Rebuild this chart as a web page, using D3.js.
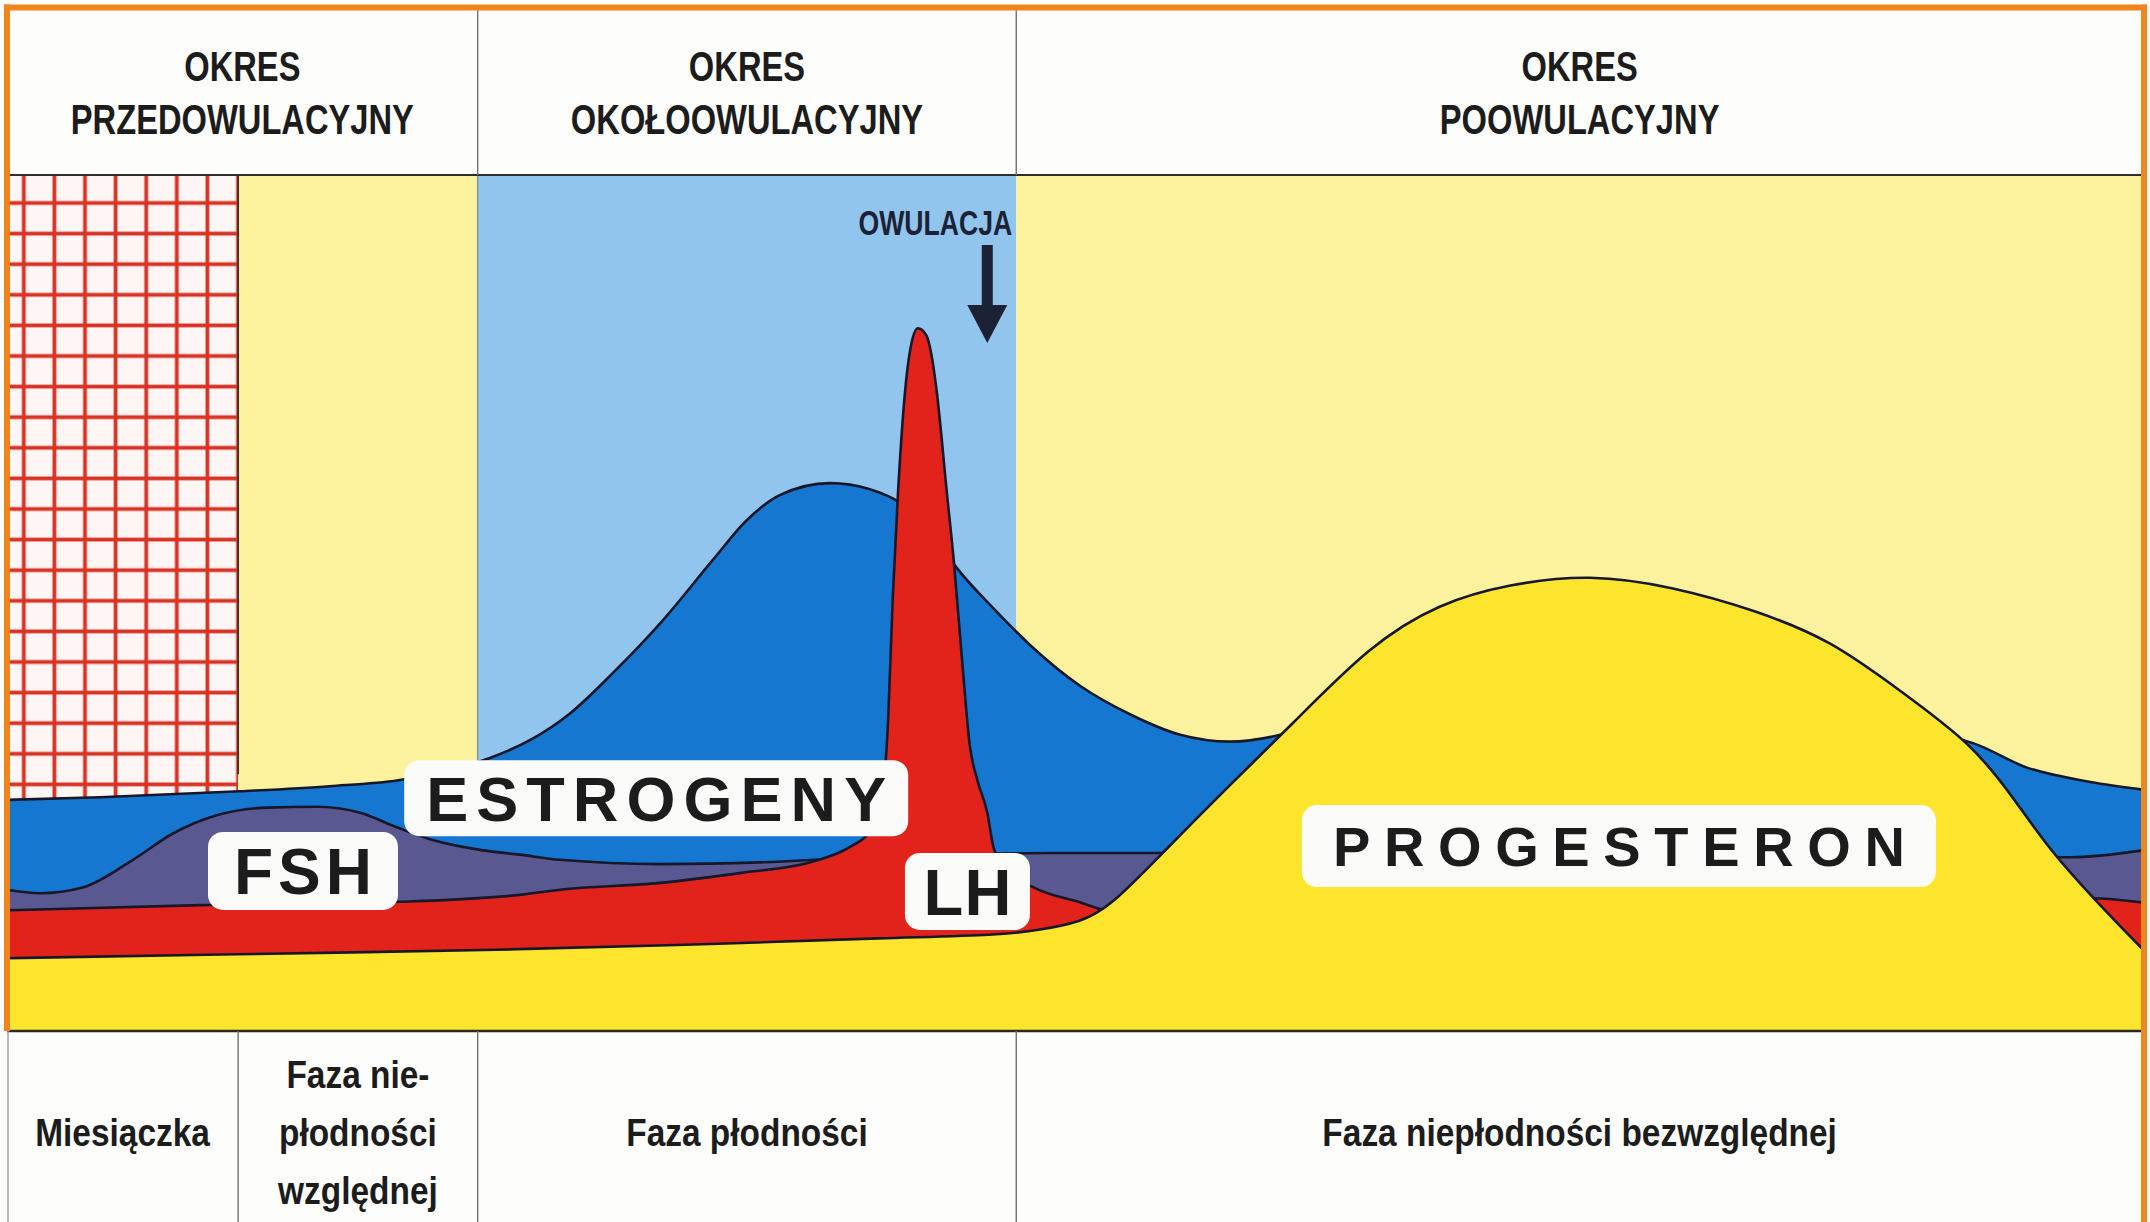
<!DOCTYPE html>
<html>
<head>
<meta charset="utf-8">
<script src="https://cdn.jsdelivr.net/npm/d3@7"></script>
<style>
  body { margin: 0; background: #fff; }
  svg { display: block; }
  text { font-family: 'Liberation Sans', Arial, sans-serif; font-weight: bold; fill: #1c1c1c; }
</style>
</head>
<body>
<script>
const W = 2150, H = 1222

// day boundaries of the cycle phases (28 day cycle)
const phaseEdges = [0, 3.03, 6.17, 13.23, 28]
const periodNames = [['OKRES', 'PRZEDOWULACYJNY'], ['OKRES', 'OKOŁOOWULACYJNY'], ['OKRES', 'POOWULACYJNY']]
const periodEdges = [[0, 6.17], [6.17, 13.23], [13.23, 28]]
const phaseNames = [['Miesiączka'], ['Faza nie-', 'płodności', 'względnej'], ['Faza płodności'], ['Faza niepłodności bezwzględnej']]
const ovulationDay = 12.85

// hormone curves: cycle day -> relative level (0-100)
const estrogenDays = [0, 1.22, 3.05, 4.23, 5.13, 5.81, 6.33, 6.86, 7.38, 7.94, 8.60, 9.25, 9.70, 10.13, 10.79, 11.31, 11.71, 12.10, 12.45, 12.95, 13.41, 14.07, 14.72, 15.38, 16.03, 16.69, 17.21, 18.26, 20.23, 22.19, 24.16, 25.78, 26.47, 27.31, 28]
const estrogenLevels = [27.0, 27.3, 28.0, 28.6, 29.3, 30.5, 31.9, 34.0, 37.1, 41.8, 48.0, 55.0, 59.7, 62.6, 64.0, 63.3, 61.7, 58.5, 54.1, 49.2, 45.1, 40.3, 37.0, 34.6, 33.8, 34.6, 36.1, 37.3, 38.1, 38.1, 36.0, 33.6, 30.8, 29.1, 28.2]

const fshDays = [0, 0.43, 1.00, 1.65, 2.18, 2.75, 3.41, 4.06, 4.63, 5.11, 5.58, 6.24, 6.72, 7.25, 8.56, 9.87, 11.05, 12.36, 13.67, 14.98, 16.29, 18.26, 22.19, 26.13, 27.04, 28]
const fshLevels = [16.5, 16.1, 16.8, 20.0, 23.1, 25.2, 26.1, 26.2, 25.5, 23.8, 22.3, 21.1, 20.6, 20.0, 19.5, 19.7, 20.2, 20.6, 20.8, 20.8, 20.8, 20.8, 20.8, 20.6, 20.3, 21.1]

const lhDays = [0, 2.53, 5.15, 6.72, 7.25, 8.56, 9.65, 10.53, 11.05, 11.31, 11.42, 11.47, 11.55, 11.61, 11.68, 11.77, 11.84, 11.94, 12.05, 12.13, 12.19, 12.32, 12.41, 12.52, 12.62, 12.72, 12.85, 12.93, 13.08, 13.45, 14.07, 14.46, 14.98, 16.95, 20.88, 24.81, 26.13, 27.31, 28]
const lhLevels = [14.1, 14.7, 15.1, 15.9, 16.5, 17.3, 18.5, 19.7, 21.5, 23.3, 25.2, 27.0, 36.3, 50.4, 62.9, 74.5, 79.6, 82.1, 81.3, 78.4, 74.5, 62.9, 55.0, 43.3, 33.4, 29.3, 25.5, 21.5, 19.0, 16.8, 15.0, 13.9, 13.2, 12.4, 12.4, 13.6, 14.7, 15.5, 15.0]

const progDays = [0, 2.53, 6.72, 9.08, 11.61, 13.02, 13.54, 14.07, 14.46, 15.18, 16.08, 16.81, 17.88, 18.78, 19.68, 20.75, 21.84, 22.91, 23.90, 24.81, 25.78, 26.32, 26.78, 27.37, 28]
const progLevels = [8.5, 8.9, 9.5, 10.1, 10.9, 11.2, 11.8, 12.7, 14.5, 21.1, 29.2, 35.5, 45.2, 50.0, 52.2, 53.4, 51.9, 49.2, 45.7, 39.8, 33.4, 27.0, 21.1, 15.3, 9.5]

const hormoneNames = ['ESTROGENY', 'FSH', 'LH', 'PROGESTERON']

// label placement (day, level of box centre) and box look
const labelLayout = [
    { day: 8.51, level: 27.2, w: 504, h: 76, size: 63, textW: 460 },
    { day: 3.88, level: 18.7, w: 190, h: 78, size: 64, textW: 138 },
    { day: 12.59, level: 16.3, w: 125, h: 77, size: 65, textW: 88 },
    { day: 21.13, level: 21.6, w: 634, h: 82, size: 56, textW: 572 }
]

const m = { left: 7, right: 2143, top: 10, chartTop: 175, chartBottom: 1031 }

const x = d3.scaleLinear().domain([0, 28]).range([m.left, m.right])
const y = d3.scaleLinear().domain([0, 100]).range([m.chartBottom, m.chartTop])

const svg = d3.select('body').append('svg')
    .attr('width', W)
    .attr('height', H)

svg.append('rect').attr('width', W).attr('height', H).attr('fill', '#fdfdfc')

// menstruation grid pattern
const defs = svg.append('defs')
const cell = 30.6
const pat = defs.append('pattern')
    .attr('id', 'grid')
    .attr('patternUnits', 'userSpaceOnUse')
    .attr('width', cell).attr('height', cell)
    .attr('x', 23.8 - cell / 2).attr('y', 203 - cell / 2)
pat.append('rect').attr('width', cell).attr('height', cell).attr('fill', '#fdf6f4')
pat.append('line').attr('x1', cell / 2).attr('x2', cell / 2).attr('y1', 0).attr('y2', cell)
    .attr('stroke', '#d83324').attr('stroke-width', 3.8)
pat.append('line').attr('y1', cell / 2).attr('y2', cell / 2).attr('x1', 0).attr('x2', cell)
    .attr('stroke', '#d83324').attr('stroke-width', 3.8)

// phase backgrounds of the chart area
const bgFills = ['url(#grid)', '#fcf29e', '#92c5ee', '#fcf29e']
svg.append('g').selectAll('rect')
    .data(d3.pairs(phaseEdges))
    .enter()
    .append('rect')
    .attr('x', d => x(d[0]))
    .attr('width', d => x(d[1]) - x(d[0]))
    .attr('y', y(100))
    .attr('height', y(0) - y(100))
    .attr('fill', (d, i) => bgFills[i])

svg.append('line')
    .attr('x1', x(phaseEdges[1])).attr('x2', x(phaseEdges[1]))
    .attr('y1', y(100)).attr('y2', y(30))
    .attr('stroke', '#3a3030').attr('stroke-width', 1.8)
svg.append('line')
    .attr('x1', x(phaseEdges[2])).attr('x2', x(phaseEdges[2]))
    .attr('y1', y(100)).attr('y2', y(30))
    .attr('stroke', '#6a7a8a').attr('stroke-width', 1)

// hormone layers, back to front
const layers = [
    { pts: d3.zip(estrogenDays, estrogenLevels), fill: '#1677d0', curve: d3.curveMonotoneX },
    { pts: d3.zip(fshDays, fshLevels), fill: '#5a5890', curve: d3.curveMonotoneX },
    { pts: d3.zip(lhDays, lhLevels), fill: '#e2231b', curve: d3.curveMonotoneX },
    { pts: d3.zip(progDays, progLevels), fill: '#fde52e', curve: d3.curveBasis }
]

layers.forEach(l => {
    const area = d3.area()
        .x(d => x(d[0]))
        .y0(y(0))
        .y1(d => y(d[1]))
        .curve(l.curve)
    const line = d3.line()
        .x(d => x(d[0]))
        .y(d => y(d[1]))
        .curve(l.curve)
    svg.append('path')
        .attr('d', area(l.pts))
        .attr('fill', l.fill)
    svg.append('path')
        .attr('d', line(l.pts))
        .attr('fill', 'none')
        .attr('stroke', '#17172a')
        .attr('stroke-width', 2.6)
})

// hormone labels
hormoneNames.forEach((name, i) => {
    const lay = labelLayout[i]
    const cx = x(lay.day), cy = y(lay.level)
    svg.append('rect')
        .attr('x', cx - lay.w / 2)
        .attr('y', cy - lay.h / 2)
        .attr('width', lay.w)
        .attr('height', lay.h)
        .attr('rx', 15)
        .attr('fill', '#fbfbf9')
    svg.append('text')
        .attr('x', cx)
        .attr('y', cy + lay.size * 0.358)
        .attr('text-anchor', 'middle')
        .attr('font-size', lay.size)
        .attr('textLength', lay.textW)
        .attr('lengthAdjust', 'spacing')
        .text(name)
})

// ovulation arrow
const ox = x(ovulationDay)
svg.append('rect')
    .attr('x', ox - 5.5).attr('y', 245)
    .attr('width', 11).attr('height', 62)
    .attr('fill', '#1b2236')
svg.append('path')
    .attr('d', `M${ox - 20},305 L${ox + 20},305 L${ox},343 Z`)
    .attr('fill', '#1b2236')
svg.append('g')
    .attr('transform', `translate(${ox + 25},235) scale(0.74,1)`)
    .append('text')
    .attr('text-anchor', 'end')
    .attr('font-size', 36)
    .style('fill', '#1b2236')
    .text('OWULACJA')

// header row
svg.append('line')
    .attr('x1', m.left).attr('x2', m.right)
    .attr('y1', m.chartTop).attr('y2', m.chartTop)
    .attr('stroke', '#2e2e2e').attr('stroke-width', 2.2)

periodEdges.forEach((e, i) => {
    const cx = (x(e[0]) + x(e[1])) / 2
    periodNames[i].forEach((t, j) => {
        svg.append('g')
            .attr('transform', `translate(${cx},${81 + j * 53}) scale(0.76,1)`)
            .append('text')
            .attr('text-anchor', 'middle')
            .attr('font-size', 43)
            .text(t)
    })
    if (i > 0) {
        svg.append('line')
            .attr('x1', x(e[0])).attr('x2', x(e[0]))
            .attr('y1', m.top).attr('y2', m.chartTop)
            .attr('stroke', '#707070').attr('stroke-width', 1.4)
    }
})

// bottom row
svg.append('line')
    .attr('x1', m.left).attr('x2', m.right)
    .attr('y1', m.chartBottom).attr('y2', m.chartBottom)
    .attr('stroke', '#2a2a20').attr('stroke-width', 2.4)

d3.pairs(phaseEdges).forEach((e, i) => {
    const cx = (x(e[0]) + x(e[1])) / 2
    const lines = phaseNames[i]
    const startY = 1146 - (lines.length - 1) / 2 * 58
    lines.forEach((t, j) => {
        svg.append('g')
            .attr('transform', `translate(${cx},${startY + j * 58}) scale(0.88,1)`)
            .append('text')
            .attr('text-anchor', 'middle')
            .attr('font-size', 38)
            .text(t)
    })
    if (i > 0) {
        svg.append('line')
            .attr('x1', x(e[0])).attr('x2', x(e[0]))
            .attr('y1', m.chartBottom).attr('y2', H)
            .attr('stroke', '#707070').attr('stroke-width', 1.4)
    }
})

svg.append('line')
    .attr('x1', 8).attr('x2', 8)
    .attr('y1', m.chartBottom).attr('y2', H)
    .attr('stroke', '#9a9a9a').attr('stroke-width', 1.4)

// orange frame
const frame = svg.append('g').attr('stroke', '#f0861b').attr('stroke-width', 6).attr('fill', 'none')
frame.append('line').attr('x1', 4).attr('x2', 2147).attr('y1', 7.5).attr('y2', 7.5)
frame.append('line').attr('x1', 7).attr('x2', 7).attr('y1', 4.5).attr('y2', m.chartBottom)
frame.append('line').attr('x1', 2144).attr('x2', 2144).attr('y1', 4.5).attr('y2', H)
</script>
</body>
</html>
